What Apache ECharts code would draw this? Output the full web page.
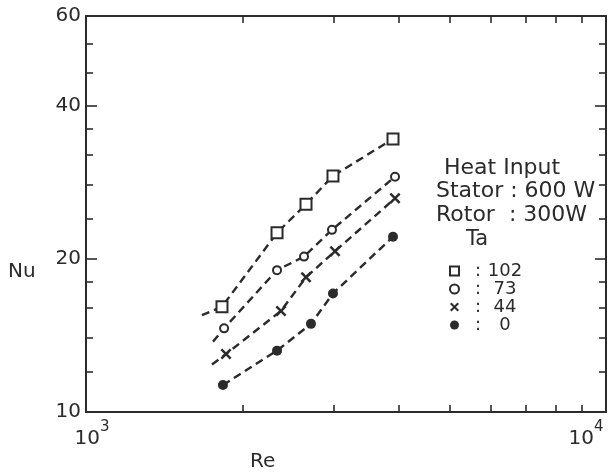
<!DOCTYPE html>
<html><head><meta charset="utf-8">
<script src="https://cdn.jsdelivr.net/npm/echarts@6/dist/echarts.min.js"></script>
<style>html,body{margin:0;padding:0;background:#fff}#c{width:608px;height:476px}</style>
</head><body><div id="c"></div>
<script>
// ---- data ----
const reTa102 = [1826, 2330, 2649, 2985, 3894];
const nuTa102 = [16.1, 22.5, 25.6, 29.1, 34.4];
const reTa73  = [1843, 2330, 2626, 2972, 3929];
const nuTa73  = [14.6, 19.0, 20.2, 22.8, 29.0];
const reTa44  = [1859, 2371, 2649, 3012, 3929];
const nuTa44  = [13.0, 15.8, 18.4, 20.7, 26.3];
const reTa0   = [1834, 2330, 2708, 2985, 3894];
const nuTa0   = [11.3, 13.2, 14.9, 17.1, 22.1];
// lower-left start of each dashed line [Re, Nu] (null = starts at first point)
const lineStartTa102 = [1671, 15.5];
const lineStartTa73  = [1755, 13.75];
const lineStartTa44  = [1747, 12.4];
const lineStartTa0   = null;

const taNames = ['102', '73', '44', '0'];
const xLabelValues = [1000, 10000];
const xMinorTicks = [2000, 3000, 4000, 5000, 6000, 7000, 8000, 9000];
const yLabelValues = [10, 20, 40, 60];
const yMajorTicks = [20, 40];
const yMinorTicks = [12, 14, 16, 18, 24, 28, 32, 36, 46.5, 53];

const INK = '#2b2b2b';
const FONT = 'DejaVu Sans';
const crossPath = 'path://M0,1.6L1.6,0L5,3.4L8.4,0L10,1.6L6.6,5L10,8.4L8.4,10L5,6.6L1.6,10L0,8.4L3.4,5Z';
const L = Math.log10;

const XMIN = 1000, XMAX = 10000, YMIN = 10, YMAX = 60;

function mk(name, re, nu, start, symbol, size, itemStyle) {
  const data = re.map((r, i) => [r, nu[i]]);
  if (start) data.unshift({ value: start, symbol: 'none' });
  return {
    type: 'line', name, data, xAxisIndex: 0, yAxisIndex: 0,
    symbol, symbolSize: size, itemStyle, showSymbol: true,
    lineStyle: { color: INK, width: 2.4, type: [8, 5] },
    emphasis: { disabled: true }, z: 3
  };
}
const openStyle = { color: '#fff', borderColor: INK, borderWidth: 2 };
const fillStyle = { color: INK, borderWidth: 0 };

function decoX(position, showLine, ticks, len, labels) {
  return {
    type: 'value', min: L(XMIN), max: L(XMAX), position,
    axisLine: { show: showLine, onZero: false, lineStyle: { color: INK, width: 2 } },
    axisTick: { show: !!ticks, inside: true, length: len, customValues: ticks ? ticks.map(L) : undefined, lineStyle: { color: INK, width: 1.6 } },
    axisLabel: labels ? {
      show: true, customValues: labels.map(L), margin: 8, color: INK, fontFamily: FONT,
      formatter: v => Math.abs(v - 3) < 1e-9 ? '{p|}{b|10}{s|3}' : '{b|10}{s|4}{q|}',
      rich: {
        b: { fontSize: 20, fontFamily: FONT, color: INK, lineHeight: 29, verticalAlign: 'bottom' },
        s: { fontSize: 15, fontFamily: FONT, color: INK, lineHeight: 29, verticalAlign: 'top' },
        p: { width: 12 }, q: { width: 40 }
      }
    } : { show: false },
    splitLine: { show: false }
  };
}
function decoY(position, showLine, ticks, len, labels) {
  return {
    type: 'value', min: L(YMIN), max: L(YMAX), position,
    axisLine: { show: showLine, onZero: false, lineStyle: { color: INK, width: 2 } },
    axisTick: { show: !!ticks, inside: true, length: len, customValues: ticks ? ticks.map(L) : undefined, lineStyle: { color: INK, width: 1.6 } },
    axisLabel: labels ? {
      show: true, customValues: labels.map(L), margin: 5, color: INK, fontFamily: FONT, fontSize: 20,
      formatter: v => String(Math.round(Math.pow(10, v)))
    } : { show: false },
    splitLine: { show: false }
  };
}

const chart = echarts.init(document.getElementById('c'));
chart.setOption({
  animation: false,
  backgroundColor: '#fff',
  grid: { left: 86, right: 2, top: 16, bottom: 64, containLabel: false, outerBoundsMode: 'none' },
  xAxis: [
    { type: 'log', logBase: 10, min: XMIN, max: XMAX, position: 'bottom',
      axisLine: { show: true, onZero: false, lineStyle: { color: INK, width: 2 } },
      axisTick: { show: false }, axisLabel: { show: false }, splitLine: { show: false } },
    decoX('bottom', false, xMinorTicks, 7, xLabelValues),
    decoX('top', true, xMinorTicks, 7, null)
  ],
  yAxis: [
    { type: 'log', logBase: 10, min: YMIN, max: YMAX, position: 'left',
      axisLine: { show: true, onZero: false, lineStyle: { color: INK, width: 2 } },
      axisTick: { show: false }, axisLabel: { show: false }, splitLine: { show: false } },
    decoY('left', false, yMajorTicks, 11, yLabelValues),
    decoY('left', false, yMinorTicks, 7, null),
    decoY('right', true, yMajorTicks, 11, null),
    decoY('right', false, yMinorTicks, 7, null)
  ],
  legend: {
    orient: 'vertical', left: 444, top: 257, itemWidth: 9, itemHeight: 9, itemGap: 0,
    selectedMode: false,
    data: [
      { name: taNames[0], icon: 'rect', itemStyle: openStyle },
      { name: taNames[1], icon: 'circle', itemStyle: openStyle },
      { name: taNames[2], icon: crossPath, itemStyle: fillStyle },
      { name: taNames[3], icon: 'circle', itemStyle: fillStyle }
    ],
    formatter: n => '{c|:}{v|' + n + '}',
    textStyle: {
      color: INK, fontFamily: FONT, fontSize: 18, lineHeight: 16,
      rich: {
        c: { width: 28, align: 'center', fontSize: 18, fontFamily: FONT, color: INK },
        v: { width: 26, align: 'center', fontSize: 18, fontFamily: FONT, color: INK }
      }
    }
  },
  graphic: [
    { type: 'text', x: 444, y: 168, style: { text: 'Heat Input', font: '22px "DejaVu Sans"', fill: INK, verticalAlign: 'middle' } },
    { type: 'text', x: 436, y: 191, style: { text: 'Stator : 600 W', font: '22px "DejaVu Sans"', fill: INK, verticalAlign: 'middle' } },
    { type: 'text', x: 436, y: 215, style: { text: 'Rotor  : 300W', font: '22px "DejaVu Sans"', fill: INK, verticalAlign: 'middle' } },
    { type: 'text', x: 466, y: 240, style: { text: 'Ta', font: '21px "DejaVu Sans"', fill: INK, verticalAlign: 'middle' } },
    { type: 'text', x: 8, y: 272, style: { text: 'Nu', font: '20px "DejaVu Sans"', fill: INK, verticalAlign: 'middle' } },
    { type: 'text', x: 250, y: 462, style: { text: 'Re', font: '20px "DejaVu Sans"', fill: INK, verticalAlign: 'middle' } }
  ],
  series: [
    mk(taNames[0], reTa102, nuTa102, lineStartTa102, 'rect', 11, openStyle),
    mk(taNames[1], reTa73, nuTa73, lineStartTa73, 'circle', 8, openStyle),
    mk(taNames[2], reTa44, nuTa44, lineStartTa44, crossPath, 11, fillStyle),
    mk(taNames[3], reTa0, nuTa0, lineStartTa0, 'circle', 10, fillStyle)
  ]
});
</script>
</body></html>
